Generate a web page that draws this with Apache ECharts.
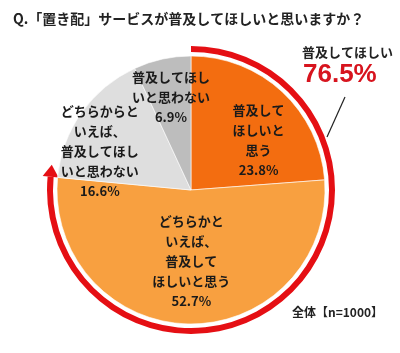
<!DOCTYPE html>
<html>
<head>
<meta charset="utf-8">
<script src="https://cdn.jsdelivr.net/npm/echarts@6/dist/echarts.min.js"></script>
<style>
  html, body { margin: 0; padding: 0; background: #fff; }
  #main { width: 400px; height: 353px; }
</style>
</head>
<body>
<div id="main"></div>
<script>
// answers, clockwise from 12 o'clock
const categories = [
  '普及して\nほしいと\n思う',
  'どちらかと\nいえば、\n普及して\nほしいと思う',
  'どちらからと\nいえば、\n普及してほし\nいと思わない',
  '普及してほし\nいと思わない'
]
const shares = [23.8, 52.7, 16.6, 6.9]
const sliceColors = ['#f36d10', '#f8a040', '#dedede', '#bdbdbd']
const wantShare = 76.5 // 普及してほしい (sum of the two orange answers)
const sampleNote = '全体【n=1000】'
const titleText = 'Q.「置き配」サービスが普及してほしいと思いますか？'

const cx = 191
const cy = 190
const pieR = 134
const ringR = [138, 144]

// nudge the inside labels to where they sit in the original
const labelShift = [[20, 1], [1, 1], [-34, 1], [-5, -25]]

const font = '"Noto Sans CJK JP", "Noto Sans", sans-serif'

const chart = echarts.init(document.getElementById('main'))

// arrow head at the end of the red ring
const endAng = wantShare / 100 * Math.PI * 2
const rMid = (ringR[0] + ringR[1]) / 2
const ex = cx + rMid * Math.sin(endAng)
const ey = cy - rMid * Math.cos(endAng)
const tx = Math.cos(endAng)
const ty = Math.sin(endAng)
const nx = -ty
const ny = tx
const arrowPts = [
  [ex + tx * 12, ey + ty * 12],
  [ex + nx * 8, ey + ny * 8],
  [ex - nx * 8, ey - ny * 8]
]

chart.setOption({
  animation: false,
  title: {
    text: titleText,
    left: 8,
    top: 7,
    textStyle: { fontFamily: font, fontSize: 14, fontWeight: 'bold', color: '#222' }
  },
  series: [
    {
      type: 'pie',
      center: [cx, cy],
      radius: [0, pieR],
      startAngle: 90,
      clockwise: true,
      silent: true,
      itemStyle: { borderColor: '#fff', borderWidth: 0.6 },
      label: {
        show: true,
        position: 'inside',
        formatter: '{b}\n{c}%',
        fontFamily: font,
        fontSize: 13,
        fontWeight: 'bold',
        lineHeight: 20,
        color: '#1a1a1a',
        align: 'center'
      },
      labelLayout: function(params) {
        const s = labelShift[params.dataIndex]
        return { dx: s[0], dy: s[1] }
      },
      data: shares.map((v, i) => ({
        name: categories[i],
        value: v,
        itemStyle: { color: sliceColors[i] }
      }))
    },
    {
      type: 'pie',
      center: [cx, cy],
      radius: ringR,
      startAngle: 90,
      clockwise: true,
      silent: true,
      label: { show: false },
      labelLine: { show: false },
      data: [
        { value: wantShare, itemStyle: { color: '#e50f14' } },
        { value: 100 - wantShare, itemStyle: { color: 'rgba(0,0,0,0)' } }
      ]
    }
  ],
  graphic: [
    {
      type: 'polygon',
      shape: { points: arrowPts },
      style: { fill: '#e50f14' },
      silent: true
    },
    {
      type: 'line',
      shape: { x1: 327, y1: 137, x2: 345, y2: 97 },
      style: { stroke: '#222', lineWidth: 1.2 },
      silent: true
    },
    {
      type: 'text',
      left: 302,
      top: 46,
      style: { text: '普及してほしい', fontFamily: font, fontSize: 13, fontWeight: 'bold', fill: '#222' }
    },
    {
      type: 'text',
      left: 303,
      top: 62,
      style: { text: wantShare.toFixed(1) + '%', fontFamily: 'Arial, "Liberation Sans", sans-serif', fontSize: 26, fontWeight: 'bold', fill: '#d7141e' }
    },
    {
      type: 'text',
      left: 292,
      top: 306,
      style: { text: sampleNote, fontFamily: font, fontSize: 12, fontWeight: 'bold', fill: '#222' }
    }
  ]
})
</script>
</body>
</html>
